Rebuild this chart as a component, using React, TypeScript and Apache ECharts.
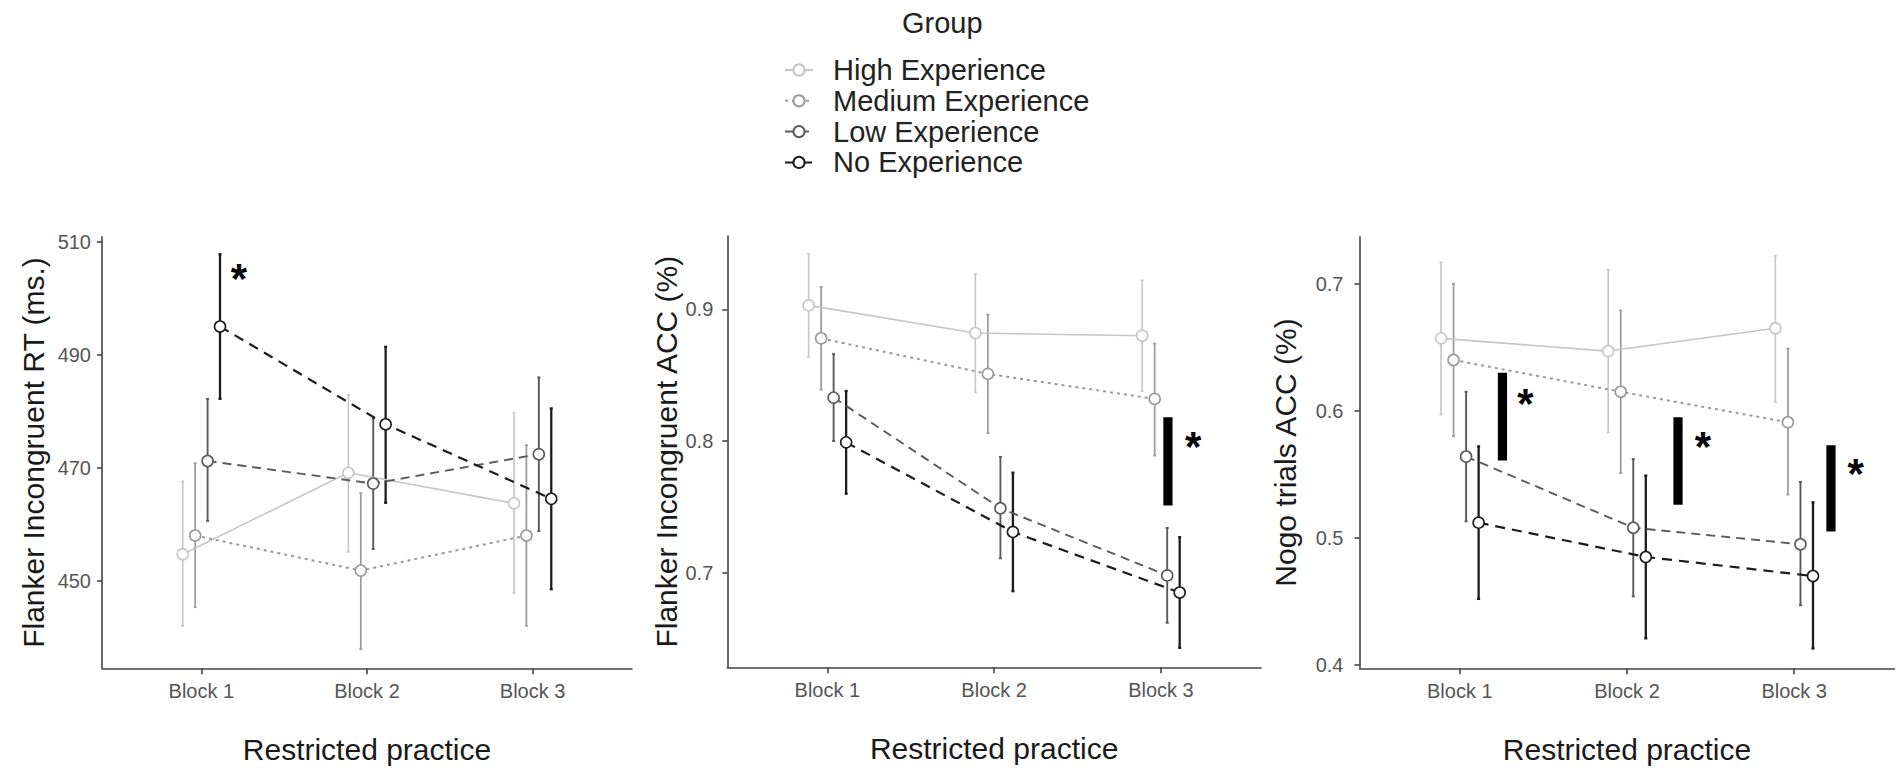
import React, { useEffect, useRef } from "react";
import * as echarts from "echarts";

// ---------- data ----------
const blocks = ["Block 1", "Block 2", "Block 3"];
const groups = ["High Experience", "Medium Experience", "Low Experience", "No Experience"];

// Panel 1: Flanker Incongruent RT (ms.)  rows = groups, cols = blocks
const rtMean = [
  [454.7, 469.1, 463.7],
  [458.0, 451.8, 458.0],
  [471.2, 467.2, 472.4],
  [495.0, 477.7, 464.5],
];
const rtLow = [
  [442.0, 455.1, 447.8],
  [445.3, 437.9, 442.0],
  [460.6, 455.6, 458.8],
  [482.2, 463.8, 448.5],
];
const rtHigh = [
  [467.6, 482.9, 479.7],
  [470.8, 465.5, 474.0],
  [482.2, 478.7, 486.0],
  [507.8, 491.4, 480.5],
];

// Panel 2: Flanker Incongruent ACC (%)
const accMean = [
  [0.903, 0.882, 0.88],
  [0.878, 0.851, 0.832],
  [0.833, 0.749, 0.698],
  [0.799, 0.731, 0.685],
];
const accLow = [
  [0.864, 0.837, 0.838],
  [0.839, 0.806, 0.789],
  [0.8, 0.711, 0.662],
  [0.76, 0.686, 0.643],
];
const accHigh = [
  [0.942, 0.927, 0.922],
  [0.917, 0.896, 0.874],
  [0.866, 0.788, 0.734],
  [0.838, 0.776, 0.727],
];

// Panel 3: Nogo trials ACC (%)
const nogoMean = [
  [0.657, 0.647, 0.665],
  [0.64, 0.615, 0.591],
  [0.564, 0.508, 0.495],
  [0.512, 0.485, 0.47],
];
const nogoLow = [
  [0.597, 0.583, 0.607],
  [0.58, 0.551, 0.534],
  [0.513, 0.454, 0.447],
  [0.452, 0.421, 0.413],
];
const nogoHigh = [
  [0.717, 0.711, 0.722],
  [0.7, 0.679, 0.649],
  [0.615, 0.562, 0.544],
  [0.572, 0.549, 0.528],
];

// significance annotations: [x (block units), y1, y2]  and asterisks [x, y]
const rtSigBars: number[][] = [];
const rtStars = [[0.226, 504.4]];
const accSigBars = [[2.042, 0.751, 0.818]];
const accStars = [[2.194, 0.7995]];
const nogoSigBars = [
  [0.255, 0.561, 0.63],
  [1.305, 0.526, 0.595],
  [2.22, 0.505, 0.573],
];
const nogoStars = [
  [0.392, 0.61],
  [1.454, 0.576],
  [2.368, 0.555],
];

// y tick labels
const rtTicks = [450, 470, 490, 510];
const accTicks = [0.7, 0.8, 0.9];
const nogoTicks = [0.4, 0.5, 0.6, 0.7];

// ---------- styles ----------
const FONT = "'Liberation Sans', Arial, Helvetica, sans-serif";
const groupColors = ["#c6c6c6", "#9a9a9a", "#5a5a5a", "#1c1c1c"];
const groupDash: any[] = ["solid", [3, 4], [9, 6], [10, 7]];
const groupLineWidth = [1.6, 2, 1.9, 2.2];
const barLineWidth = [1.6, 1.7, 1.9, 2.3];
const AXIS_COLOR = "#444";

const panels = [
  {
    mean: rtMean, lo: rtLow, hi: rtHigh, bars: rtSigBars, stars: rtStars, ticks: rtTicks,
    title: "Flanker Incongruent RT (ms.)", min: 434.5, max: 510.9, dec: 0,
    grid: { left: 102, top: 236.7, width: 530, height: 431.6 }, nameGap: 54, labelMargin: 11,
  },
  {
    mean: accMean, lo: accLow, hi: accHigh, bars: accSigBars, stars: accStars, ticks: accTicks,
    title: "Flanker Incongruent ACC (%)", min: 0.6282, max: 0.9557, dec: 1,
    grid: { left: 727.3, top: 236, width: 533.7, height: 431.3 }, nameGap: 46, labelMargin: 14,
  },
  {
    mean: nogoMean, lo: nogoLow, hi: nogoHigh, bars: nogoSigBars, stars: nogoStars, ticks: nogoTicks,
    title: "Nogo trials ACC (%)", min: 0.3974, max: 0.737, dec: 1,
    grid: { left: 1359.5, top: 236.7, width: 535, height: 431.6 }, nameGap: 59, labelMargin: 16,
  },
];

const dodge = (g: number) => (g - 1.5) * 0.075;

function buildOption() {
  const grid: any[] = [];
  const xAxis: any[] = [];
  const yAxis: any[] = [];
  const series: any[] = [];

  panels.forEach((p, i) => {
    grid.push({ ...p.grid, containLabel: false });
    xAxis.push({
      type: "value",
      gridIndex: i,
      min: -0.6,
      max: 2.6,
      axisLine: { show: true, onZero: false, lineStyle: { color: AXIS_COLOR, width: 1.6 } },
      axisTick: { show: true, length: 6, customValues: [0, 1, 2], lineStyle: { color: AXIS_COLOR, width: 1.6 } },
      axisLabel: {
        customValues: [0, 1, 2],
        formatter: (v: number) => blocks[Math.round(v)],
        fontSize: 20,
        color: "#555",
        margin: 13,
        fontFamily: FONT,
      },
      splitLine: { show: false },
      name: "Restricted practice",
      nameLocation: "middle",
      nameGap: 66,
      nameTextStyle: { fontSize: 30, color: "#1a1a1a", fontFamily: FONT },
    });
    yAxis.push({
      type: "value",
      gridIndex: i,
      min: p.min,
      max: p.max,
      axisLine: { show: true, onZero: false, lineStyle: { color: AXIS_COLOR, width: 1.6 } },
      axisTick: { show: true, length: 5, customValues: p.ticks, lineStyle: { color: AXIS_COLOR, width: 1.6 } },
      axisLabel: {
        customValues: p.ticks,
        formatter: (v: number) => v.toFixed(p.dec),
        fontSize: 20,
        color: "#555",
        margin: p.labelMargin,
        fontFamily: FONT,
      },
      splitLine: { show: false },
      name: p.title,
      nameLocation: "middle",
      nameRotate: 90,
      nameGap: p.nameGap,
      nameTextStyle: { fontSize: 30, color: "#1a1a1a", fontFamily: FONT },
    });

    groups.forEach((gName, g) => {
      // lines + points
      series.push({
        type: "line",
        name: gName,
        xAxisIndex: i,
        yAxisIndex: i,
        data: blocks.map((_, b) => [b + dodge(g), p.mean[g][b]]),
        symbol: "circle",
        symbolSize: 11,
        showSymbol: true,
        itemStyle: { color: "#ffffff", borderColor: groupColors[g], borderWidth: 1.6 },
        lineStyle: { color: groupColors[g], width: groupLineWidth[g], type: groupDash[g] },
        z: 3 + g * 0.01,
        emphasis: { disabled: true },
        silent: true,
      });
    });

    groups.forEach((gName, g) => {
      // error bars
      series.push({
        type: "custom",
        name: gName + " CI",
        xAxisIndex: i,
        yAxisIndex: i,
        data: blocks.map((_, b) => [b + dodge(g), p.lo[g][b], p.hi[g][b]]),
        clip: false,
        silent: true,
        z: 2,
        renderItem: (params: any, api: any) => {
          const x = api.value(0);
          const a = api.coord([x, api.value(1)]);
          const c = api.coord([x, api.value(2)]);
          const st = { stroke: groupColors[g], lineWidth: barLineWidth[g] };
          return {
            type: "group",
            children: [
              { type: "line", shape: { x1: a[0], y1: a[1], x2: c[0], y2: c[1] }, style: st },
              { type: "line", shape: { x1: a[0] - 1.5, y1: a[1], x2: a[0] + 1.5, y2: a[1] }, style: st },
              { type: "line", shape: { x1: c[0] - 1.5, y1: c[1], x2: c[0] + 1.5, y2: c[1] }, style: st },
            ],
          };
        },
      });
    });

    if (p.bars.length) {
      series.push({
        type: "custom",
        name: "sig bars " + i,
        xAxisIndex: i,
        yAxisIndex: i,
        data: p.bars,
        clip: false,
        silent: true,
        z: 4,
        renderItem: (params: any, api: any) => {
          const a = api.coord([api.value(0), api.value(1)]);
          const c = api.coord([api.value(0), api.value(2)]);
          return {
            type: "rect",
            shape: { x: a[0] - 4.6, y: c[1], width: 9.2, height: a[1] - c[1] },
            style: { fill: "#000" },
          };
        },
      });
    }

    series.push({
      type: "custom",
      name: "stars " + i,
      xAxisIndex: i,
      yAxisIndex: i,
      data: p.stars,
      clip: false,
      silent: true,
      z: 4,
      renderItem: (params: any, api: any) => {
        const a = api.coord([api.value(0), api.value(1)]);
        return {
          type: "text",
          x: a[0],
          y: a[1] + 5,
          style: {
            text: "*",
            fontSize: 42,
            fontWeight: "bold",
            fontFamily: FONT,
            fill: "#000",
            align: "center",
            verticalAlign: "middle",
          },
        };
      },
    });
  });

  return {
    animation: false,
    backgroundColor: "#ffffff",
    textStyle: { fontFamily: FONT },
    title: {
      text: "Group",
      left: 902,
      top: 8,
      padding: 0,
      textStyle: { fontSize: 29, fontWeight: "normal", color: "#222", fontFamily: FONT },
    },
    legend: {
      data: groups,
      orient: "vertical",
      left: 784,
      top: 55,
      padding: 0,
      itemWidth: 28,
      itemHeight: 14,
      itemGap: 0.8,
      selectedMode: false,
      textStyle: { fontSize: 29, color: "#222", fontFamily: FONT, lineHeight: 30, padding: [0, 0, 0, 15] },
    },
    grid,
    xAxis,
    yAxis,
    series,
  };
}

export default function App() {
  const ref = useRef<HTMLDivElement>(null);
  useEffect(() => {
    document.body.style.margin = "0";
    if (!ref.current) return;
    const chart = echarts.init(ref.current, undefined, { renderer: "svg" });
    chart.setOption(buildOption() as any);
    return () => chart.dispose();
  }, []);
  return <div ref={ref} style={{ width: 1902, height: 773 }} />;
}
